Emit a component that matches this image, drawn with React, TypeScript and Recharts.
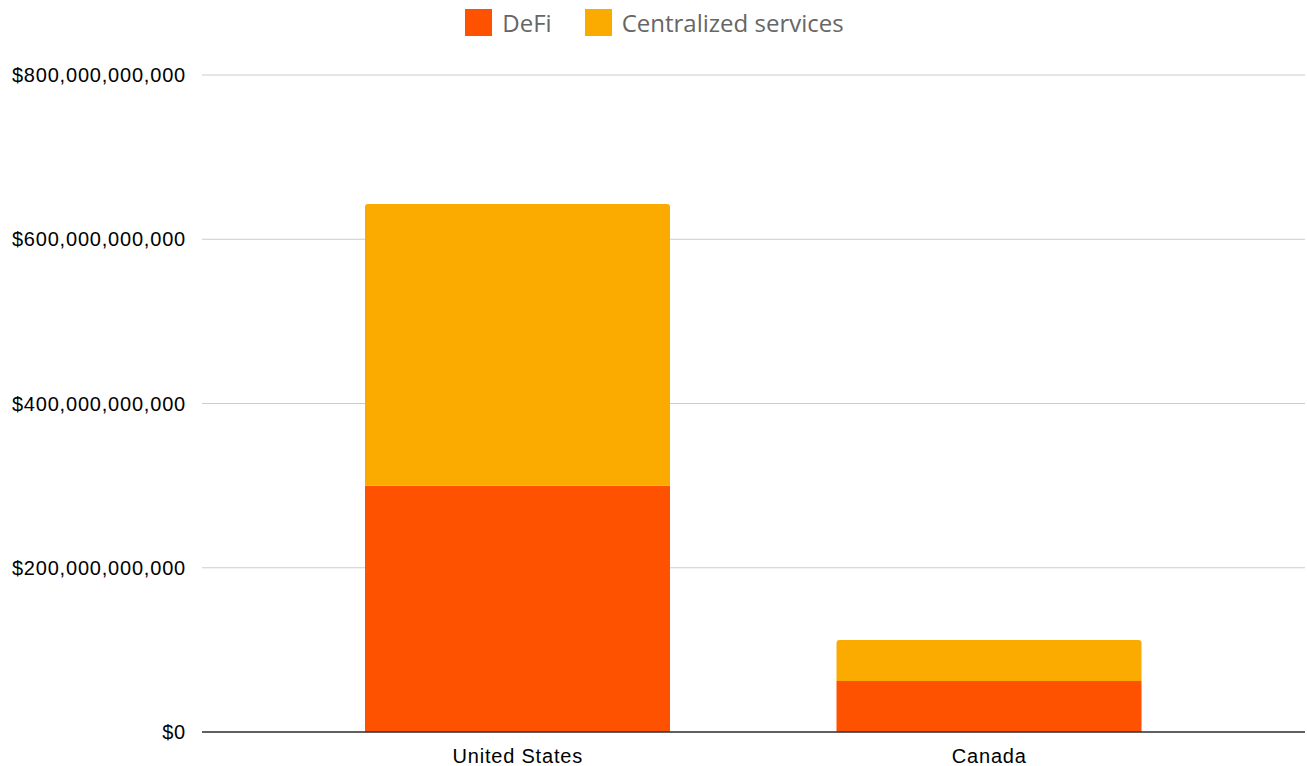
import { BarChart, Bar, XAxis, YAxis, CartesianGrid, Legend } from "recharts";

const countries = ["United States", "Canada"];
const defi = [300e9, 62e9];
const centralized = [343e9, 50e9];
const yTicks = [0, 200e9, 400e9, 600e9, 800e9];

const data = countries.map((name, i) => ({
  name,
  defi: defi[i],
  centralized: centralized[i],
}));

const COLORS = { defi: "#FF5200", centralized: "#FBAA00" };

const fmtMoney = (v: number) => "$" + v.toLocaleString("en-US");

const tickStyle = {
  fill: "#000",
  fontSize: 20,
  letterSpacing: 0.8,
  fontFamily: "Arial, 'Liberation Sans'",
};

function TopLegend() {
  const items = [
    { label: "DeFi", color: COLORS.defi },
    { label: "Centralized services", color: COLORS.centralized },
  ];
  return (
    <div
      style={{
        display: "flex",
        justifyContent: "center",
        alignItems: "center",
        gap: 33,
        fontFamily: "'Open Sans', sans-serif",
        fontSize: 24,
        color: "#666",
        height: 28,
        paddingLeft: 4,
      }}
    >
      {items.map((it) => (
        <div key={it.label} style={{ display: "flex", alignItems: "center" }}>
          <span
            style={{
              width: 27,
              height: 27,
              background: it.color,
              display: "inline-block",
              marginRight: 10,
            }}
          />
          {it.label}
        </div>
      ))}
    </div>
  );
}

export default function App() {
  return (
    <div style={{ position: "absolute", left: 0, top: 0, background: "#fff" }}>
      <BarChart
        width={1307}
        height={766}
        data={data}
        margin={{ top: 47, right: 2, bottom: 0, left: 0 }}
        barSize={305}
      >
        <Legend
          verticalAlign="top"
          wrapperStyle={{ top: 8 }}
          content={() => <TopLegend />}
        />
        <CartesianGrid vertical={false} stroke="#ccc" />
        <XAxis
          dataKey="name"
          height={34}
          padding={{ left: 80, right: 80 }}
          tickLine={false}
          axisLine={{ stroke: "#333", strokeWidth: 1.5 }}
          tick={tickStyle}
          tickMargin={11}
        />
        <YAxis
          width={202}
          domain={[0, 800e9]}
          ticks={yTicks}
          tickFormatter={fmtMoney}
          axisLine={false}
          tickLine={false}
          tickSize={0}
          tickMargin={16}
          tick={tickStyle}
        />
        <Bar dataKey="defi" stackId="a" fill={COLORS.defi} isAnimationActive={false} />
        <Bar
          dataKey="centralized"
          stackId="a"
          fill={COLORS.centralized}
          radius={[3, 3, 0, 0]}
          isAnimationActive={false}
        />
      </BarChart>
    </div>
  );
}
